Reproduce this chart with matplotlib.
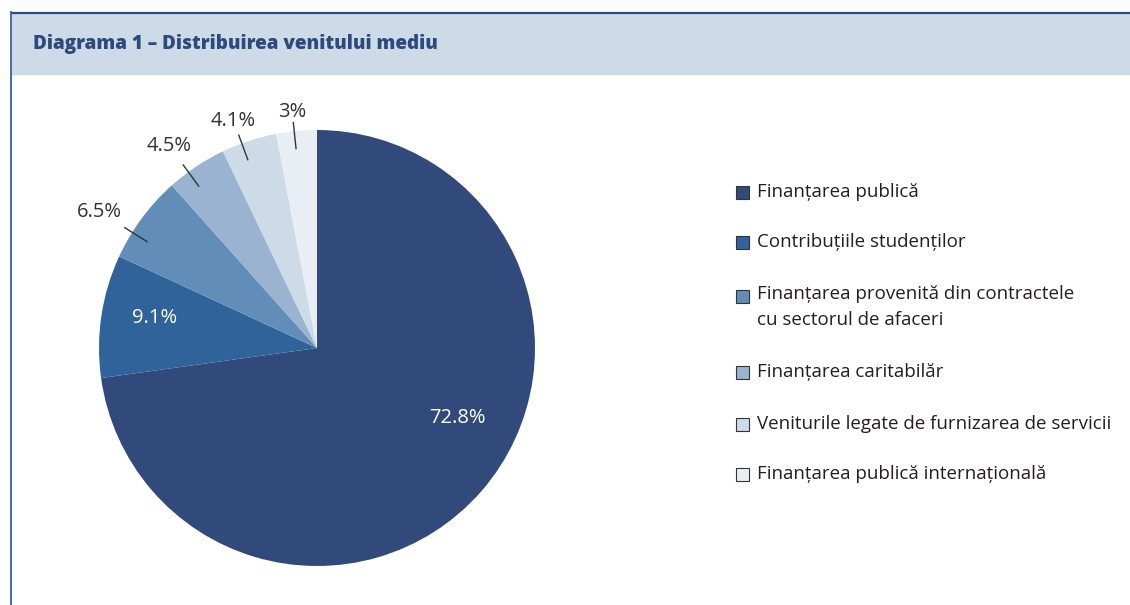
import matplotlib.pyplot as plt
from matplotlib.patches import Rectangle
from matplotlib.lines import Line2D
import numpy as np

plt.rcParams['font.family'] = ['Open Sans', 'DejaVu Sans']

# date
categorii = [
    "Finanțarea publică",
    "Contribuțiile studenților",
    "Finanțarea provenită din contractele\ncu sectorul de afaceri",
    "Finanțarea caritabilăr",
    "Veniturile legate de furnizarea de servicii",
    "Finanțarea publică internațională",
]
valori = [72.8, 9.1, 6.5, 4.5, 4.1, 3.0]
etichete = ["72.8%", "9.1%", "6.5%", "4.5%", "4.1%", "3%"]
culori = ["#324a7b", "#2f6399", "#618db8", "#9ab3d1", "#cddbe8", "#e9eef5"]

W, H = 1130, 605
def fx(px):
    return px / W
def fy(py):
    return 1 - py / H

fig = plt.figure(figsize=(W / 100, H / 100), dpi=100)

# banda de titlu si chenar
fig.patches.append(Rectangle((fx(11), fy(74)), 1 - fx(11), fy(13) - fy(74),
                             transform=fig.transFigure, color="#cddae7", zorder=0))
fig.lines.append(Line2D([fx(10.5), 1], [fy(12.5), fy(12.5)], transform=fig.transFigure,
                        color="#2e4a7d", lw=1.6))
fig.lines.append(Line2D([fx(11), fx(11)], [fy(12), 0], transform=fig.transFigure,
                        color="#4a6a9c", lw=1.4))
fig.text(fx(33), fy(44), "Diagrama 1 – Distribuirea venitului mediu", fontsize=13.6,
         weight=800, color="#2e4a7d", va="center", ha="left")

# diagrama circulara
R_PX = 218
half = 250
ax = fig.add_axes([fx(317 - half), fy(348 + half), 2 * half / W, 2 * half / H])
wedges, _ = ax.pie(valori, colors=culori, startangle=90, counterclock=False,
                   radius=1, wedgeprops=dict(linewidth=0))
lim = half / R_PX
ax.set_xlim(-lim, lim)
ax.set_ylim(-lim, lim)
ax.axis("off")

interior = [True, True, False, False, False, False]
r_text = [0.72, 0.76, 1.18, 1.15, 1.11, 1.09]
shift = [14.5, -2, 4.5, 2.5, 2, 0.6]
for i, w in enumerate(wedges):
    ang = np.deg2rad((w.theta1 + w.theta2) / 2 + shift[i])
    c, s = np.cos(ang), np.sin(ang)
    if interior[i]:
        ax.text(r_text[i] * c, r_text[i] * s, etichete[i], color="white",
                fontsize=14.5, ha="center", va="center")
    else:
        ax.plot([0.92 * c, 1.04 * c], [0.92 * s, 1.04 * s], color="#333333", lw=1)
        ax.text(r_text[i] * c, r_text[i] * s, etichete[i], color="#333333",
                fontsize=14.5, ha="center", va="center")

# legenda
y_leg = [192, 242, 297, 372, 424, 474]
for i, nume in enumerate(categorii):
    y = y_leg[i]
    fig.patches.append(Rectangle((fx(736), fy(y + 6.5)), 13 / W, 13 / H,
                                 transform=fig.transFigure, facecolor=culori[i],
                                 edgecolor="#333333", lw=0.8))
    if "\n" in nume:
        fig.text(fx(757), fy(y - 12), nume, fontsize=13.5, color="#231f20", ha="left",
                 va="top", linespacing=1.55)
    else:
        fig.text(fx(757), fy(y), nume, fontsize=13.5, color="#231f20", ha="left",
                 va="center")

fig.savefig("out.png", dpi=100)
